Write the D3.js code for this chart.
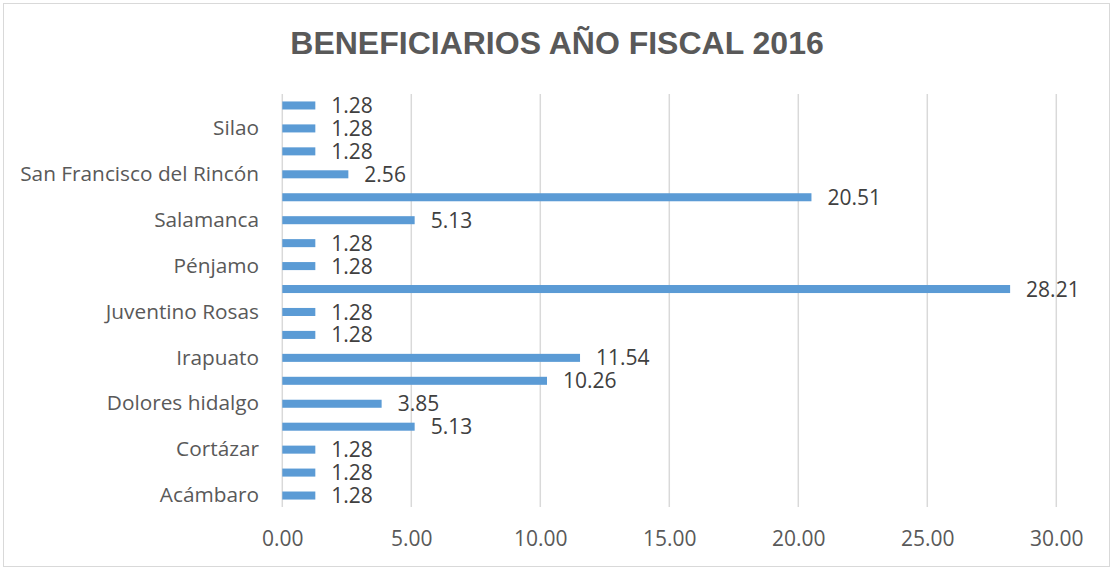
<!DOCTYPE html>
<html>
<head>
<meta charset="utf-8">
<script src="https://cdn.jsdelivr.net/npm/d3@7"></script>
<style>
  body { margin: 0; background: #fff; }
  text { font-family: "Open Sans", sans-serif; }
</style>
</head>
<body>
<script>
// categories from bottom to top; only every other one is shown on the axis
var municipios = ["Acámbaro", "Celaya", "Cortázar", "Cuerámaro", "Dolores hidalgo",
    "Guanajuato", "Irapuato", "Jaral del Progreso", "Juventino Rosas", "León",
    "Pénjamo", "Purísima del Rincón", "Salamanca", "Salvatierra",
    "San Francisco del Rincón", "San Miguel de Allende", "Silao", "Valle de Santiago"];
var porcentajes = [1.28, 1.28, 1.28, 5.13, 3.85, 10.26, 11.54, 1.28, 1.28, 28.21,
    1.28, 1.28, 5.13, 20.51, 2.56, 1.28, 1.28, 1.28];
var xTicks = [0, 5, 10, 15, 20, 25, 30];
var titulo = "BENEFICIARIOS AÑO FISCAL 2016";

var width = 1114, height = 569;
var plotLeft = 282.3, plotRight = 1056.3, plotTop = 94, plotBottom = 507;

var svg = d3.select("body").append("svg")
    .attr("width", width)
    .attr("height", height);

svg.append("rect")
    .attr("x", 3.5).attr("y", 3.5)
    .attr("width", 1106).attr("height", 563)
    .attr("fill", "#fff")
    .attr("stroke", "#d9d9d9");

svg.append("text")
    .attr("x", 557).attr("y", 54)
    .attr("text-anchor", "middle")
    .attr("fill", "#595959")
    .style("font-family", "'Liberation Sans', Arial, sans-serif")
    .style("font-weight", "bold")
    .style("font-size", "32px")
    .text(titulo);

var x = d3.scaleLinear().domain([0, 30]).range([plotLeft, plotRight]);

var y = d3.scaleBand()
    .domain(municipios.slice().reverse())
    .range([plotTop, plotBottom])
    .paddingInner(0.65)
    .paddingOuter(0.325);

// vertical gridlines
svg.append("g").selectAll("line")
    .data(xTicks)
    .enter().append("line")
      .attr("x1", function(d) { return x(d); })
      .attr("x2", function(d) { return x(d); })
      .attr("y1", plotTop).attr("y2", plotBottom)
      .attr("stroke", "#d9d9d9")
      .attr("stroke-width", 1.5);

// x axis labels
var xAxis = svg.append("g")
    .attr("transform", "translate(0," + 531 + ")")
    .call(d3.axisBottom(x).tickValues(xTicks).tickFormat(d3.format(".2f")).tickSize(0).tickPadding(0));
xAxis.select(".domain").remove();
xAxis.selectAll("text")
    .attr("dy", "0.71em")
    .attr("fill", "#595959")
    .style("font-size", "21px")
    .style("font-family", "'Open Sans', sans-serif");

// y axis labels, every other category
var yAxis = svg.append("g")
    .attr("transform", "translate(" + 259 + ",0)")
    .call(d3.axisLeft(y)
      .tickValues(municipios.filter(function(d, i) { return i % 2 == 0; }))
      .tickSize(0).tickPadding(0));
yAxis.select(".domain").remove();
yAxis.selectAll("text")
    .attr("fill", "#595959")
    .style("font-size", "20.8px")
    .style("font-family", "'Open Sans', sans-serif");

var rows = municipios.map(function(d, i) { return {name: d, value: porcentajes[i]}; });

svg.append("g").selectAll("rect")
    .data(rows)
    .enter().append("rect")
      .attr("x", x(0))
      .attr("y", function(d) { return y(d.name); })
      .attr("width", function(d) { return x(d.value) - x(0); })
      .attr("height", y.bandwidth())
      .attr("fill", "#5b9bd5");

svg.append("g").selectAll("text")
    .data(rows)
    .enter().append("text")
      .attr("x", function(d) { return x(d.value) + 16; })
      .attr("y", function(d) { return y(d.name) + y.bandwidth() / 2; })
      .attr("dy", "0.36em")
      .attr("fill", "#404040")
      .style("font-size", "21px")
      .text(function(d) { return d3.format(".2f")(d.value); });
</script>
</body>
</html>
